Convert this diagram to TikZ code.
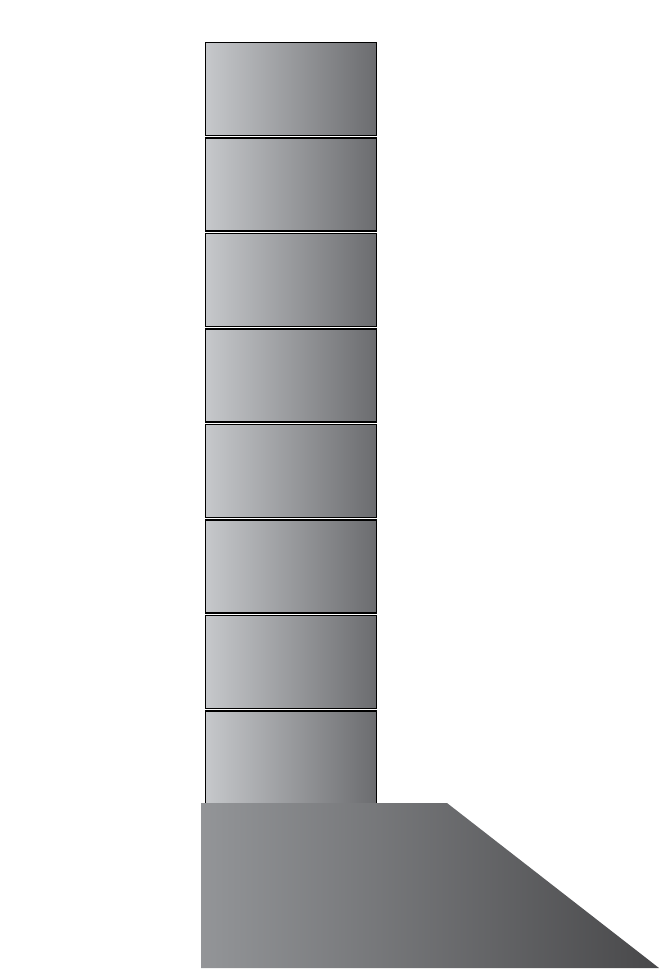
\documentclass[tikz,border=0pt]{standalone}
\usetikzlibrary{positioning}

\definecolor{boxl}{HTML}{C6C8CB}
\definecolor{boxr}{HTML}{6B6C6F}
\definecolor{basel}{HTML}{939598}
\definecolor{baser}{HTML}{48484A}

\begin{document}
\begin{tikzpicture}[x=1pt, y=-1pt,
    block/.style={rectangle, draw=black, line width=1.3pt, left color=boxl, right color=boxr,
                  minimum width=171pt, minimum height=93pt, inner sep=0pt}]
  \useasboundingbox (0,0) rectangle (660,969);

  % stack of blocks
  \node[block] (b1) at (291,89) {};
  \foreach \i [remember=\i as \j (initially 1)] in {2,...,8}
    \node[block, below=1.2pt of b\j] (b\i) {};

  % base
  \coordinate (tl) at (201,803);
  \coordinate (tr) at (447,803);
  \coordinate (br) at (659,968);
  \coordinate (bl) at (201,968);
  \shade[left color=basel, right color=baser] (tl) -- (tr) -- (br) -- (bl) -- cycle;
\end{tikzpicture}
\end{document}
